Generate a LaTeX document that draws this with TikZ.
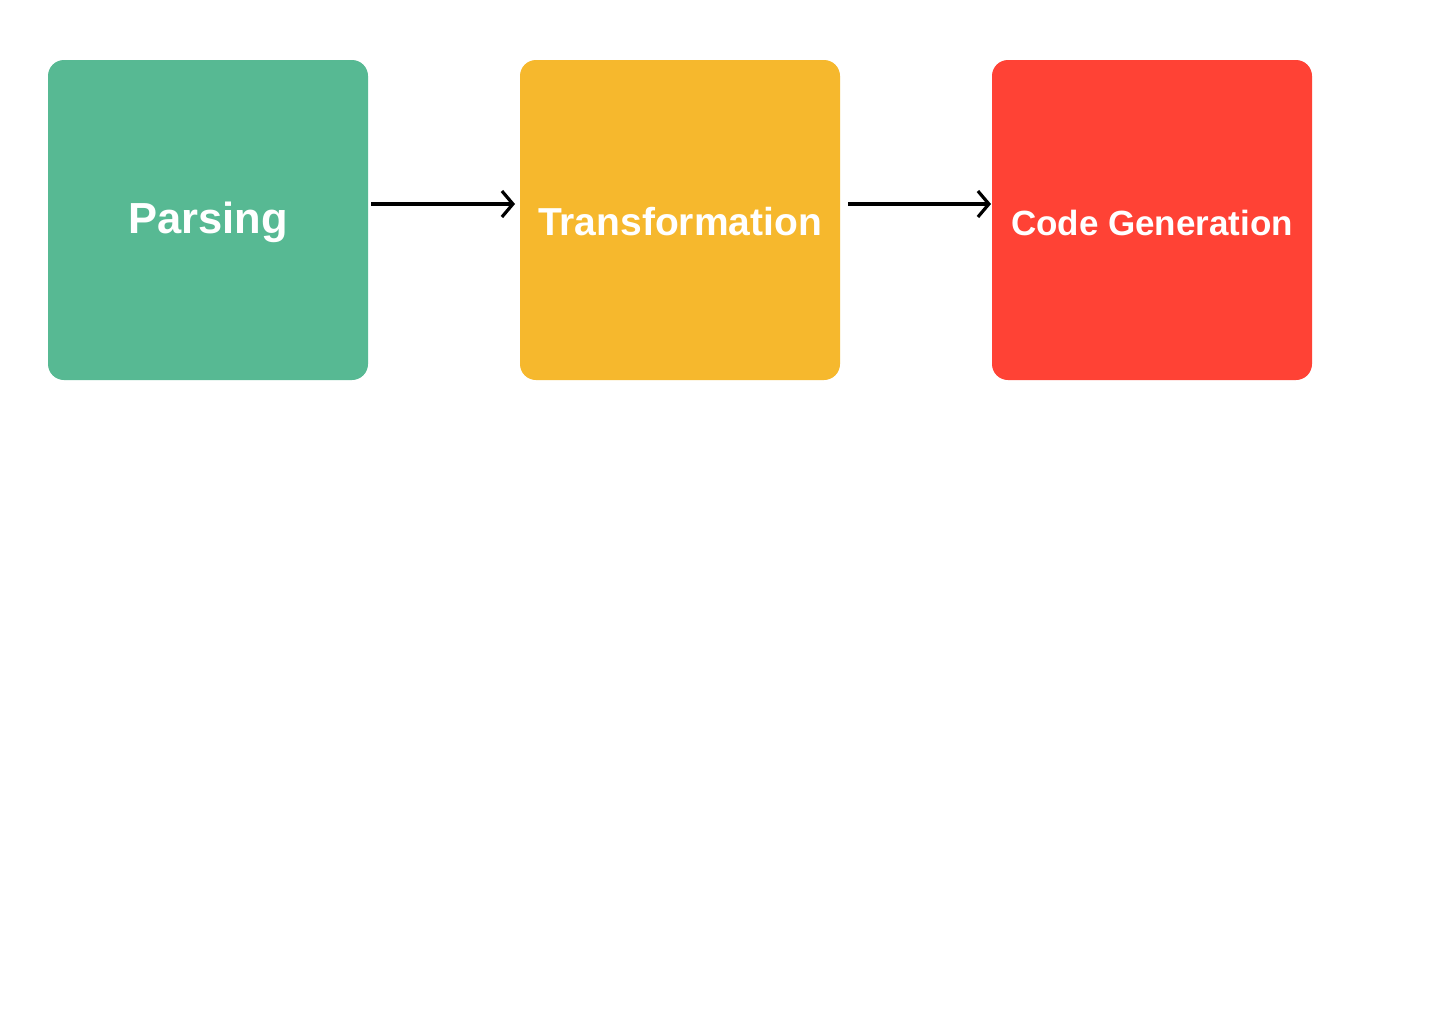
\documentclass[tikz,border=0pt]{standalone}
\usepackage{fontspec}
\setmainfont{Liberation Sans}[BoldFont={Liberation Sans Bold}]
\usetikzlibrary{arrows.meta}
\definecolor{cgreen}{HTML}{57B993}
\definecolor{cyellow}{HTML}{F6B82D}
\definecolor{cred}{HTML}{FF4235}
\tikzset{
  stagebox/.style={rounded corners=16pt, line width=0pt},
  stagelabel/.style={text=white, anchor=base, inner sep=0pt},
  flow/.style={line width=3.2pt, -{Straight Barb[length=11pt,width=26pt]}},
}
\begin{document}
\begin{tikzpicture}[x=1pt,y=-1pt]
\useasboundingbox[fill=white] (0,0) rectangle (1444,1028);
\fill[cgreen,stagebox] (48,60) rectangle (368,380);
\fill[cyellow,stagebox] (520,60) rectangle (840,380);
\fill[cred,stagebox] (992,60) rectangle (1312,380);
\node[stagelabel, font=\fontsize{43.5}{50}\selectfont\bfseries] (p) at (208,233) {Parsing};
\node[stagelabel, font=\fontsize{39}{44}\selectfont\bfseries] (t) at (680,235) {Transformation};
\node[stagelabel, font=\fontsize{35}{40}\selectfont\bfseries] (c) at (1152,235) {Code Generation};
\coordinate (a1s) at (371,204); \coordinate (a1e) at (515,204);
\coordinate (a2s) at (848,204); \coordinate (a2e) at (991,204);
\draw[flow] (a1s) -- (a1e);
\draw[flow] (a2s) -- (a2e);
\end{tikzpicture}
\end{document}
